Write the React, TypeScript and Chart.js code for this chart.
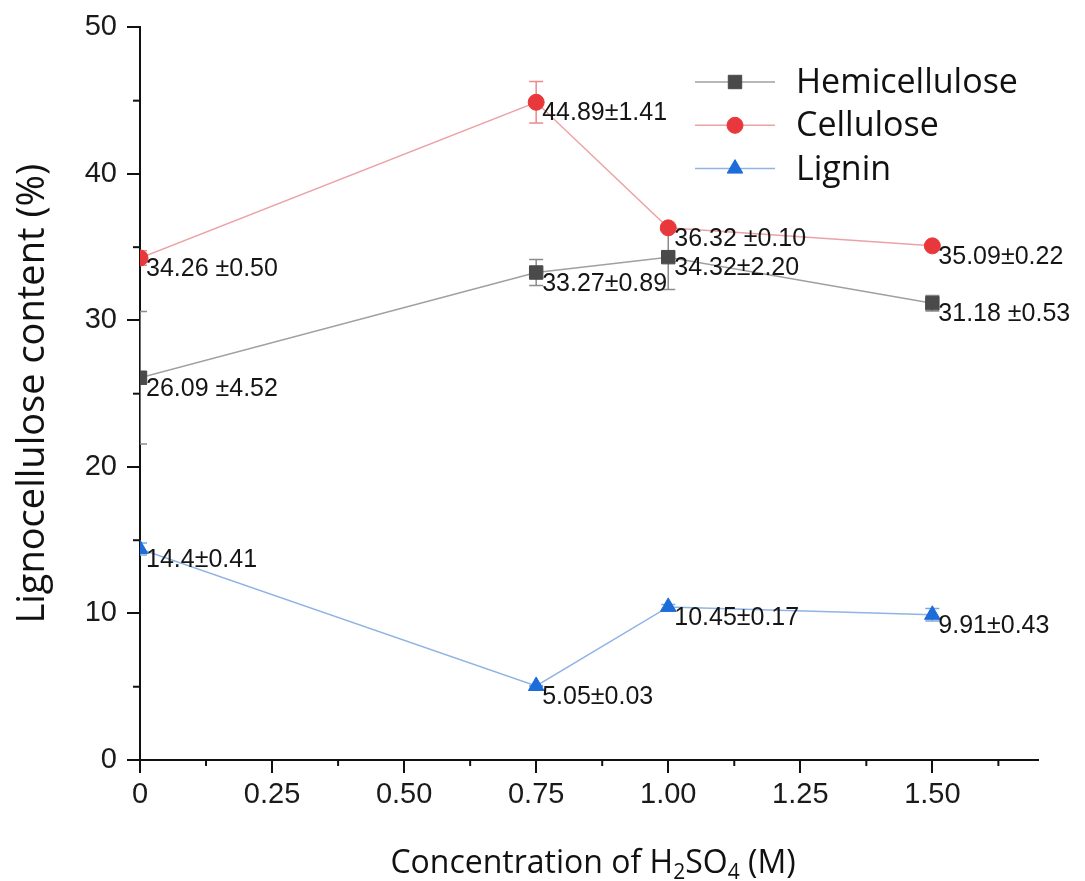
import { useEffect, useRef } from "react";
import { Chart, registerables } from "chart.js";

Chart.register(...registerables);

const concentrations = [0, 0.75, 1.0, 1.5];
const hemicellulose = [26.09, 33.27, 34.32, 31.18];
const hemicelluloseErr = [4.52, 0.89, 2.2, 0.53];
const cellulose = [34.26, 44.89, 36.32, 35.09];
const celluloseErr = [0.5, 1.41, 0.1, 0.22];
const lignin = [14.4, 5.05, 10.45, 9.91];
const ligninErr = [0.41, 0.03, 0.17, 0.43];
const hemicelluloseLabels = ["26.09 ±4.52", "33.27±0.89", "34.32±2.20", "31.18 ±0.53"];
const celluloseLabels = ["34.26 ±0.50", "44.89±1.41", "36.32 ±0.10", "35.09±0.22"];
const ligninLabels = ["14.4±0.41", "5.05±0.03", "10.45±0.17", "9.91±0.43"];
const seriesNames = ["Hemicellulose", "Cellulose", "Lignin"];
const xTicks = [0, 0.25, 0.5, 0.75, 1.0, 1.25, 1.5];
const xTickLabels = ["0", "0.25", "0.50", "0.75", "1.00", "1.25", "1.50"];
const xMinorTicks = [0.125, 0.375, 0.625, 0.875, 1.125, 1.375, 1.625];
const yTicks = [0, 10, 20, 30, 40, 50];
const yTickLabels = ["0", "10", "20", "30", "40", "50"];
const yMinorTicks = [5, 15, 25, 35, 45];
const yTitle = "Lignocellulose content (%)";
const xTitleParts = [
  { t: "Concentration of H", sub: false },
  { t: "2", sub: true },
  { t: "SO", sub: false },
  { t: "4", sub: true },
  { t: " (M)", sub: false },
];

const styles = [
  { line: "#a0a0a0", marker: "#4a4a4a", err: "#8c8c8c", pointStyle: "rect", radius: 9.5 },
  { line: "#eba3a6", marker: "#e8383b", err: "#e98b8e", pointStyle: "circle", radius: 8 },
  { line: "#8fb3e3", marker: "#1c6cd9", err: "#7ea7de", pointStyle: "triangle", radius: 9 },
];

const values = [hemicellulose, cellulose, lignin];
const errors = [hemicelluloseErr, celluloseErr, ligninErr];
const labels = [hemicelluloseLabels, celluloseLabels, ligninLabels];

const TITLE_FONT = "'Open Sans', Lato, sans-serif";
const NUM_FONT = "'Liberation Sans', Arial, sans-serif";

function drawMarker(ctx: CanvasRenderingContext2D, style: string, x: number, y: number, r: number, color: string) {
  ctx.save();
  ctx.fillStyle = color;
  ctx.strokeStyle = color;
  ctx.lineWidth = 1;
  ctx.beginPath();
  if (style === "rect") {
    const s = Math.SQRT1_2 * r;
    ctx.rect(x - s, y - s, 2 * s, 2 * s);
  } else if (style === "circle") {
    ctx.arc(x, y, r, 0, Math.PI * 2);
  } else {
    let a = 0;
    ctx.moveTo(x + Math.sin(a) * r, y - Math.cos(a) * r);
    a += (2 * Math.PI) / 3;
    ctx.lineTo(x + Math.sin(a) * r, y - Math.cos(a) * r);
    a += (2 * Math.PI) / 3;
    ctx.lineTo(x + Math.sin(a) * r, y - Math.cos(a) * r);
    ctx.closePath();
  }
  ctx.fill();
  ctx.stroke();
  ctx.restore();
}

const extrasPlugin = {
  id: "extras",
  beforeDatasetsDraw(chart: any) {
    const { ctx, chartArea, scales } = chart;
    const xs = scales.x;
    const ys = scales.y;
    ctx.save();
    ctx.beginPath();
    ctx.rect(chartArea.left, chartArea.top, chartArea.right - chartArea.left, chartArea.bottom - chartArea.top);
    ctx.clip();
    values.forEach((vals, si) => {
      ctx.strokeStyle = styles[si].err;
      ctx.lineWidth = 1.5;
      vals.forEach((v, i) => {
        const px = xs.getPixelForValue(concentrations[i]);
        const top = ys.getPixelForValue(v + errors[si][i]);
        const bot = ys.getPixelForValue(v - errors[si][i]);
        ctx.beginPath();
        ctx.moveTo(px, top);
        ctx.lineTo(px, bot);
        ctx.moveTo(px - 7, top);
        ctx.lineTo(px + 7, top);
        ctx.moveTo(px - 7, bot);
        ctx.lineTo(px + 7, bot);
        ctx.stroke();
      });
    });
    ctx.restore();
  },
  afterDraw(chart: any) {
    const { ctx, chartArea, scales } = chart;
    const xs = scales.x;
    const ys = scales.y;
    ctx.save();
    // minor ticks
    ctx.strokeStyle = "#111";
    ctx.lineWidth = 2;
    xMinorTicks.forEach((v) => {
      const px = xs.getPixelForValue(v);
      ctx.beginPath();
      ctx.moveTo(px, chartArea.bottom);
      ctx.lineTo(px, chartArea.bottom + 6);
      ctx.stroke();
    });
    yMinorTicks.forEach((v) => {
      const py = ys.getPixelForValue(v);
      ctx.beginPath();
      ctx.moveTo(chartArea.left, py);
      ctx.lineTo(chartArea.left - 7, py);
      ctx.stroke();
    });
    // data labels
    ctx.fillStyle = "#151515";
    ctx.font = `25px ${NUM_FONT}`;
    ctx.textAlign = "left";
    ctx.textBaseline = "alphabetic";
    values.forEach((vals, si) => {
      vals.forEach((v, i) => {
        const px = xs.getPixelForValue(concentrations[i]);
        const py = ys.getPixelForValue(v);
        ctx.fillText(labels[si][i], px + 6, py + 18);
      });
    });
    // legend
    const legX = 695;
    const legY = 82;
    const legStep = 43.3;
    seriesNames.forEach((name, si) => {
      const y = legY + si * legStep;
      ctx.strokeStyle = styles[si].line;
      ctx.lineWidth = 1.5;
      ctx.beginPath();
      ctx.moveTo(legX, y);
      ctx.lineTo(legX + 80, y);
      ctx.stroke();
      drawMarker(ctx, styles[si].pointStyle, legX + 40, y, styles[si].radius, styles[si].marker);
      ctx.fillStyle = "#111";
      ctx.font = `34px ${TITLE_FONT}`;
      ctx.textBaseline = "alphabetic";
      ctx.fillText(name, 796, y + 11);
    });
    // y title
    ctx.save();
    ctx.translate(44, (chartArea.top + chartArea.bottom) / 2);
    ctx.rotate(-Math.PI / 2);
    ctx.textAlign = "center";
    ctx.textBaseline = "alphabetic";
    ctx.font = `38px ${TITLE_FONT}`;
    ctx.fillStyle = "#111";
    ctx.fillText(yTitle, 0, 0);
    ctx.restore();
    // x title with subscripts
    const mainFont = `32px ${TITLE_FONT}`;
    const subFont = `21px ${TITLE_FONT}`;
    let total = 0;
    xTitleParts.forEach((p) => {
      ctx.font = p.sub ? subFont : mainFont;
      total += ctx.measureText(p.t).width;
    });
    let cx = (chartArea.left + chartArea.right) / 2 + 4 - total / 2;
    const baseY = 873;
    ctx.fillStyle = "#111";
    ctx.textAlign = "left";
    xTitleParts.forEach((p) => {
      ctx.font = p.sub ? subFont : mainFont;
      ctx.fillText(p.t, cx, p.sub ? baseY + 6 : baseY);
      cx += ctx.measureText(p.t).width;
    });
    ctx.restore();
  },
};

export default function App() {
  const ref = useRef<HTMLCanvasElement | null>(null);
  useEffect(() => {
    if (!ref.current) return;
    const datasets = values.map((vals, si) => ({
      label: seriesNames[si],
      data: vals.map((v, i) => ({ x: concentrations[i], y: v })),
      showLine: true,
      borderColor: styles[si].line,
      borderWidth: 1.5,
      backgroundColor: styles[si].marker,
      pointBackgroundColor: styles[si].marker,
      pointBorderColor: styles[si].marker,
      pointBorderWidth: 1,
      pointStyle: styles[si].pointStyle,
      pointRadius: styles[si].radius,
      pointHoverRadius: styles[si].radius,
      tension: 0,
    }));
    const chart = new Chart(ref.current, {
      type: "scatter",
      data: { datasets },
      plugins: [extrasPlugin],
      options: {
        animation: false,
        responsive: false,
        devicePixelRatio: 1,
        layout: { padding: { top: 27, right: 47, left: 0, bottom: 0 } },
        plugins: { legend: { display: false }, tooltip: { enabled: false } },
        scales: {
          x: {
            type: "linear",
            min: 0,
            max: 1.7,
            afterFit: (s: any) => {
              s.height = 121;
            },
            afterBuildTicks: (s: any) => {
              s.ticks = xTicks.map((v) => ({ value: v }));
            },
            ticks: {
              callback: (_v: any, i: number) => xTickLabels[i],
              font: { family: NUM_FONT, size: 29 },
              color: "#1a1a1a",
              padding: 5,
              maxRotation: 0,
              autoSkip: false,
            },
            grid: {
              display: true,
              drawOnChartArea: false,
              drawTicks: true,
              tickLength: 13,
              color: "#111",
              lineWidth: 2,
            },
            border: { display: true, color: "#111", width: 2 },
          },
          y: {
            type: "linear",
            min: 0,
            max: 50,
            afterFit: (s: any) => {
              s.width = 140;
            },
            afterBuildTicks: (s: any) => {
              s.ticks = yTicks.map((v) => ({ value: v }));
            },
            ticks: {
              callback: (_v: any, i: number) => yTickLabels[i],
              font: { family: NUM_FONT, size: 29 },
              color: "#1a1a1a",
              padding: 10,
              autoSkip: false,
            },
            grid: {
              display: true,
              drawOnChartArea: false,
              drawTicks: true,
              tickLength: 13,
              color: "#111",
              lineWidth: 2,
            },
            border: { display: true, color: "#111", width: 2 },
          },
        },
      },
    });
    return () => chart.destroy();
  }, []);
  return (
    <div style={{ position: "absolute", left: 0, top: 0, width: 1085, height: 881, background: "#fff" }}>
      <canvas ref={ref} width={1085} height={881} />
    </div>
  );
}
